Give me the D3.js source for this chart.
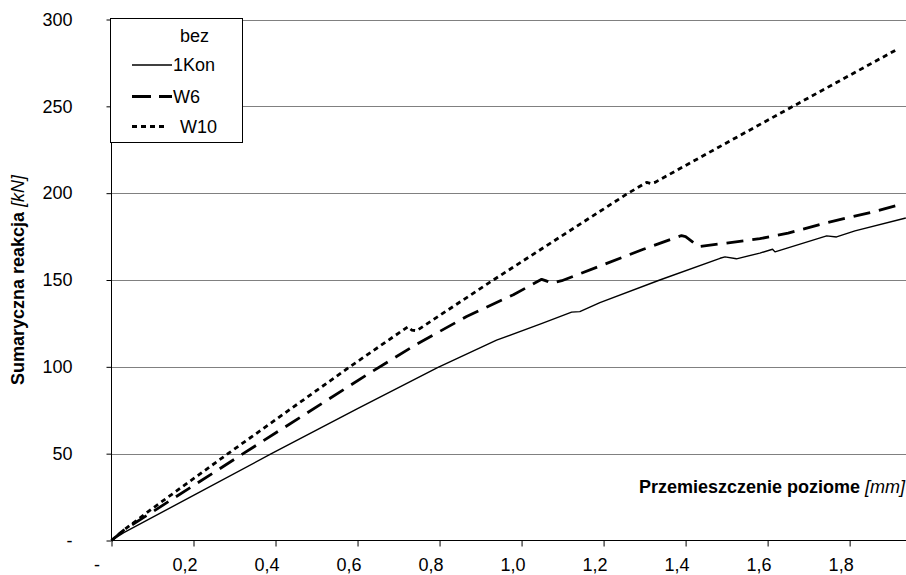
<!DOCTYPE html>
<html><head><meta charset="utf-8">
<script src="https://cdn.jsdelivr.net/npm/d3@7"></script>
<style>
body{margin:0;background:#fff;}
svg{display:block;font-family:"Liberation Sans",Arial,sans-serif;}
</style></head>
<body><svg id="c" width="906" height="575"></svg>
<script>
// ---- data ----
const kon1X = [0,0.03,0.2,0.39,0.6,0.795,0.939,1.05,1.122,1.142,1.191,1.337,1.484,1.496,1.524,1.581,1.612,1.618,1.744,1.768,1.813,1.937];
const kon1Y = [0,4.5,26,50,76,99.6,115.4,125,131.5,131.8,137,150,162.5,163.3,162.2,165.5,167.7,166.2,175.4,174.8,178.3,185.7];
const w6X = [0,0.03,0.1,0.321,0.63,0.744,0.866,0.98,1.049,1.06,1.073,1.098,1.191,1.297,1.39,1.40,1.416,1.431,1.484,1.581,1.65,1.744,1.85,1.915];
const w6Y = [0,6,16.5,50,96.5,113,129,141.5,150.4,149.5,148.1,149.6,158,167.7,175.6,175,172.1,169.2,170.8,173.8,177,183,188.8,192.9];
const w10X = [0,0.03,0.1,0.284,0.581,0.723,0.732,0.744,0.931,1.26,1.305,1.315,1.325,1.6,1.915];
const w10Y = [0,6,18.5,50,100,123.1,121.2,120.8,150,200,206.2,205.5,206.2,242,282.7];
const seriesNames = ["1Kon","W6","W10"];
const legendTitle = "bez";
const xTicks = [0,0.2,0.4,0.6,0.8,1.0,1.2,1.4,1.6,1.8];
const xTickLabels = ["-","0,2","0,4","0,6","0,8","1,0","1,2","1,4","1,6","1,8"];
const yTicks = [0,50,100,150,200,250,300];
const yTickLabels = ["-","50","100","150","200","250","300"];
const xTitle = "Przemieszczenie poziome ", xUnit = "[mm]";
const yTitle = "Sumaryczna reakcja ", yUnit = "[kN]";

// ---- chart ----
const svg = d3.select("#c");
const x = d3.scaleLinear().domain([0,1.935]).range([111.5,905]);
const y = d3.scaleLinear().domain([0,300]).range([540.5,19.5]);
const FS = 18;

// gridlines
svg.append("g").selectAll("line").data(yTicks.filter(d=>d>0)).join("line")
  .attr("x1",111.5).attr("x2",906).attr("y1",d=>Math.round(y(d))+0.5).attr("y2",d=>Math.round(y(d))+0.5)
  .attr("stroke","#808080").attr("stroke-width",1);

// y axis
const yAxis = d3.axisLeft(y).tickValues(yTicks).tickSize(5).tickPadding(34)
  .tickFormat((d,i)=>yTickLabels[i]);
const gy = svg.append("g").attr("transform","translate(111.5,0)").call(yAxis);
gy.select(".domain").attr("d","M0,19.5V540.5").attr("stroke","#000");
gy.selectAll(".tick line").attr("stroke","#000");
gy.selectAll(".tick text").attr("font-size",FS).attr("fill","#000")
  .attr("font-family","Liberation Sans, Arial, sans-serif");

// x axis
const xAxis = d3.axisBottom(x).tickValues(xTicks).tickSize(6).tickPadding(12)
  .tickFormat((d,i)=>xTickLabels[i]);
const gx = svg.append("g").attr("transform","translate(0,540.5)").call(xAxis);
gx.select(".domain").attr("d","M111.5,0H906").attr("stroke","#000");
gx.selectAll(".tick line").attr("stroke","#000");
gx.selectAll(".tick text").attr("font-size",FS).attr("fill","#000")
  .attr("font-family","Liberation Sans, Arial, sans-serif")
  .attr("dx",(d,i)=> i===0 ? -15 : -9);

// axis titles
const xt = svg.append("text").attr("x",905).attr("y",493).attr("text-anchor","end")
  .attr("font-size",18).attr("font-weight","bold");
xt.append("tspan").text(xTitle);
xt.append("tspan").attr("font-weight","normal").attr("font-style","italic").text(xUnit);

const yt = svg.append("text").attr("transform","translate(24,280) rotate(-90)").attr("text-anchor","middle")
  .attr("font-size",18).attr("font-weight","bold");
yt.append("tspan").text(yTitle);
yt.append("tspan").attr("font-weight","normal").attr("font-style","italic").text(yUnit);

// lines
const line = d3.line().x(d=>x(d[0])).y(d=>y(d[1]));
const styles = [
  {w:1.4, dash:null},
  {w:2.8, dash:"17,9"},
  {w:2.8, dash:"5,4"}
];
const series = [d3.zip(kon1X,kon1Y), d3.zip(w6X,w6Y), d3.zip(w10X,w10Y)];
series.forEach((s,i)=>{
  svg.append("path").datum(s).attr("d",line).attr("fill","none").attr("stroke","#000")
    .attr("stroke-width",styles[i].w).attr("stroke-dasharray",styles[i].dash)
    .attr("stroke-linejoin","round");
});

// legend
const lg = svg.append("g");
lg.append("rect").attr("x",110.5).attr("y",18.5).attr("width",132).attr("height",124)
  .attr("fill","#fff").attr("stroke","#000").attr("stroke-width",1);
lg.append("text").attr("x",180).attr("y",42).attr("font-size",FS).text(legendTitle);
const rowsY = [65,96.5,126.5];
const textX = [173,173,180];
seriesNames.forEach((n,i)=>{
  lg.append("line").attr("x1",132).attr("x2",i===2?167:172).attr("y1",rowsY[i]).attr("y2",rowsY[i])
    .attr("stroke","#000").attr("stroke-width",styles[i].w).attr("stroke-dasharray",i===1?"19,8":styles[i].dash);
  lg.append("text").attr("x",textX[i]).attr("y",rowsY[i]+6).attr("font-size",FS).text(n);
});
</script></body></html>
